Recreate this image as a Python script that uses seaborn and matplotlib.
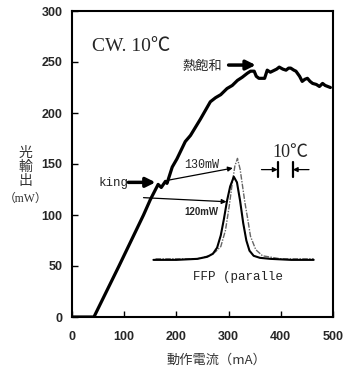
import matplotlib
matplotlib.use("Agg")
import matplotlib.pyplot as plt
import seaborn as sns
import pandas as pd

# ---- data ----
current_main = [0, 42, 90, 137, 150, 165, 171, 179, 182, 192, 201, 217, 227, 246, 265, 275,
                285, 291, 297, 307, 317, 326, 336, 342, 349, 353, 358, 369, 374, 380, 384,
                392, 397, 404, 410, 415, 419, 425, 429, 436, 441, 446, 451, 456, 461, 468,
                474, 480, 485, 490, 495]
power_main = [0, 0, 50, 100, 115, 130, 127, 133, 131, 147, 155, 172, 178, 194, 211, 215,
              218, 221, 224, 227, 232, 235, 239, 241, 241, 236, 234, 234, 242, 240, 241,
              243, 245, 243, 242, 244, 244, 242, 241, 236, 231, 233, 234, 231, 229, 228,
              226, 229, 227, 226, 225]

ffp120_x = [156, 200, 240, 259, 270, 278, 285, 291, 297, 303, 310, 316, 322, 328, 334, 340,
            348, 360, 380, 420, 463]
ffp120_y = [56, 56, 57, 59, 62, 68, 80, 96, 114, 128, 137.5, 132, 114, 92, 75, 65,
            60, 58, 57, 56, 56]

ffp130_x = [160, 240, 262, 275, 285, 294, 301, 307, 312, 317, 322, 326, 331, 336, 342, 352,
            365, 400, 463]
ffp130_y = [57, 57, 60, 64, 69, 85, 108, 131, 148, 155.5, 145, 131, 113, 98, 79, 66,
            60, 57, 57]

x_ticks = [0, 100, 200, 300, 400, 500]
y_ticks = [0, 50, 100, 150, 200, 250, 300]

sns.set_theme(style="white")
plt.rcParams['font.family'] = ['Liberation Serif', 'Noto Sans CJK JP', 'DejaVu Sans']

fig = plt.figure(figsize=(3.5, 3.78), dpi=100)
ax = fig.add_axes([72/350, 1-317/378, (333-72)/350, (317-11)/378])

df_main = pd.DataFrame({"I": current_main, "P": power_main})
df120 = pd.DataFrame({"I": ffp120_x, "P": ffp120_y})
df130 = pd.DataFrame({"I": ffp130_x, "P": ffp130_y})

sns.lineplot(data=df_main, x="I", y="P", ax=ax, color="black", lw=2.3,
             sort=False, estimator=None)
sns.lineplot(data=df130, x="I", y="P", ax=ax, color="#666666", lw=1.0,
             sort=False, estimator=None, linestyle=(0, (4, 1, 1, 1)))
sns.lineplot(data=df120, x="I", y="P", ax=ax, color="black", lw=1.5,
             sort=False, estimator=None)

ax.set_xlim(0, 500)
ax.set_ylim(0, 300)
ax.set_xticks(x_ticks)
ax.set_yticks(y_ticks)
ax.set_xticklabels([str(v) for v in x_ticks], fontfamily='Liberation Sans',
                   fontweight='bold', fontsize=9)
ax.set_yticklabels([str(v) for v in y_ticks], fontfamily='Liberation Sans',
                   fontweight='bold', fontsize=9)
ax.tick_params(axis='both', direction='in', length=4, width=1, color='black',
               left=True, bottom=True)
ax.tick_params(axis='x', pad=10)
ax.tick_params(axis='y', pad=7)
for s in ax.spines.values():
    s.set_color('black')
    s.set_linewidth(1.5)
ax.set_xlabel("")
ax.set_ylabel("")

cjk = ['Noto Sans CJK JP', 'DejaVu Sans']

# axis labels
fig.text(25/350, 1-167/378, "光\n輸\n出", ha='center', va='center', fontsize=10,
         family=cjk, color='#333333', linespacing=1.0)
fig.text(26/350, 1-199/378, "（mW）", ha='center', va='center', fontsize=8.5,
         family=['Liberation Serif', 'Noto Sans CJK JP'], color='#333333')
fig.text(216/350, 1-360/378, "動作電流（mA）", ha='center', va='center', fontsize=9.5,
         family=['Noto Sans CJK JP', 'Liberation Serif'], color='#333333')

# annotations
ax.text(38.5, 265, "CW. 10℃", ha='left', va='center', fontsize=14,
        family=['Liberation Serif', 'Noto Sans CJK JP'])
ax.text(250, 246, "熱飽和", ha='center', va='center', fontsize=9.5, family=cjk)
ax.annotate("", xy=(352, 247), xytext=(300, 247),
            arrowprops=dict(arrowstyle='-|>', lw=2.5, color='black', mutation_scale=14,
                            shrinkA=0, shrinkB=0))
ax.text(79, 131, "king", ha='center', va='center', fontsize=9, family='Liberation Mono')
ax.annotate("", xy=(160, 132), xytext=(108, 132),
            arrowprops=dict(arrowstyle='-|>', lw=2.5, color='black', mutation_scale=14,
                            shrinkA=0, shrinkB=0))

ax.text(248, 149, "130mW", ha='center', va='center', fontsize=8.5, family='Liberation Mono')
ax.annotate("", xy=(308, 146), xytext=(183, 134),
            arrowprops=dict(arrowstyle='-|>', lw=0.9, color='black', mutation_scale=7,
                            shrinkA=0, shrinkB=0))
ax.text(248, 103, "120mW", ha='center', va='center', fontsize=7, family='Liberation Sans',
        fontweight='bold')
ax.annotate("", xy=(296, 113), xytext=(137, 117),
            arrowprops=dict(arrowstyle='-|>', lw=0.9, color='black', mutation_scale=7,
                            shrinkA=0, shrinkB=0))

# 10℃ marker
ax.text(419, 161, "10℃", ha='center', va='center', fontsize=13,
        family=['Liberation Serif', 'Noto Sans CJK JP'])
ax.plot([394, 394], [137, 152], color='black', lw=1.6)
ax.plot([423, 423], [137, 152], color='black', lw=1.6)
ax.annotate("", xy=(394, 144.5), xytext=(363, 144.5),
            arrowprops=dict(arrowstyle='-|>', lw=0.9, color='black', mutation_scale=7,
                            shrinkA=0, shrinkB=0))
ax.annotate("", xy=(423, 144.5), xytext=(454, 144.5),
            arrowprops=dict(arrowstyle='-|>', lw=0.9, color='black', mutation_scale=7,
                            shrinkA=0, shrinkB=0))

ax.text(231, 39, "FFP (paralle", ha='left', va='center', fontsize=9,
        family='Liberation Mono', color='#222222')

fig.savefig("out.png", dpi=100)
